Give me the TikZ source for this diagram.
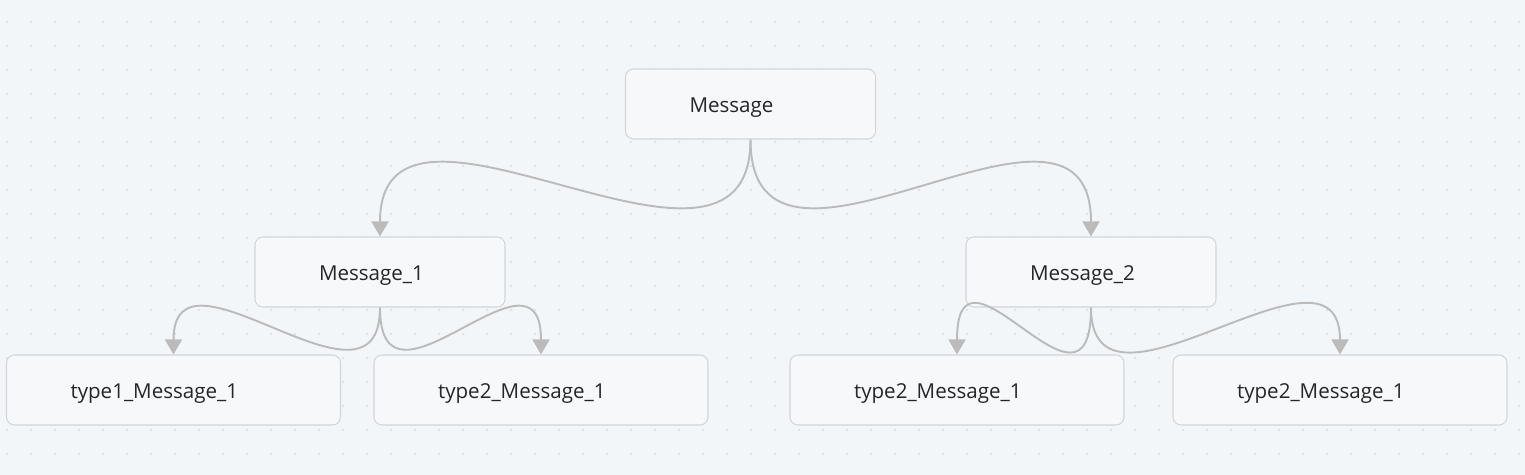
\documentclass[tikz,border=0pt]{standalone}
\usepackage{fontspec}
\setmainfont{Open Sans}
\usetikzlibrary{arrows.meta}

\definecolor{bgcol}{HTML}{F3F6F9}
\definecolor{dotcol}{HTML}{D9DDE2}
\definecolor{boxline}{HTML}{D2D5D9}
\definecolor{boxfill}{HTML}{F6F8FA}
\definecolor{linkcol}{HTML}{BBBBBB}
\definecolor{textcol}{HTML}{262626}

\tikzset{
  msgbox/.style={draw=boxline, fill=boxfill, rounded corners=0.16cm, line width=0.6pt,
    minimum height=1.4cm, inner xsep=1.28cm, inner ysep=0pt, align=left,
    text height=0.44cm, text depth=0.09cm,
    text=textcol, font=\fontsize{11.7}{14}\selectfont},
  narrowbox/.style={msgbox, text width=2.44cm},
  widebox/.style={msgbox, text width=4.12cm},
  link/.style={draw=linkcol, line width=1.1pt, -{Triangle[length=0.3cm, width=0.34cm]}}
}

\begin{document}
\begin{tikzpicture}

\fill[bgcol] (0,0) rectangle (30.5,-9.5);
\useasboundingbox (0,0) rectangle (30.5,-9.5);
% dot grid
\foreach \i in {0,...,63}
  \foreach \j in {0,...,18}
    \fill[dotcol] (0.14+0.48*\i,-0.44-0.48*\j) circle (0.022);

\node[narrowbox] (msg) at (15.01,-2.08) {Message};

\node[narrowbox] (msg1) at (7.6,-5.44) {Message\_1};
\node[narrowbox] (msg2) at (21.82,-5.44) {Message\_2};

\node[widebox] (typeA) at (3.47,-7.8) {type1\_Message\_1};
\node[widebox] (typeB) at (10.82,-7.8) {type2\_Message\_1};
\node[widebox] (typeC) at (19.14,-7.8) {type2\_Message\_1};
\node[widebox] (typeD) at (26.8,-7.8) {type2\_Message\_1};

\draw[link] (msg.south) .. controls +(0,-3.8) and +(0,3.8) .. (msg1.north);
\draw[link] (msg.south) .. controls +(0,-3.8) and +(0,3.8) .. (msg2.north);

\draw[link] (msg1.south) .. controls +(0,-2.5) and +(0,2.5) .. (typeA.north);
\draw[link] (msg1.south) .. controls +(0,-2.5) and +(0,2.5) .. (typeB.north);
\draw[link] (msg2.south) .. controls +(0,-2.7) and +(0,2.7) .. (typeC.north);
\draw[link] (msg2.south) .. controls +(0,-2.7) and +(0,2.7) .. (typeD.north);
\end{tikzpicture}
\end{document}
